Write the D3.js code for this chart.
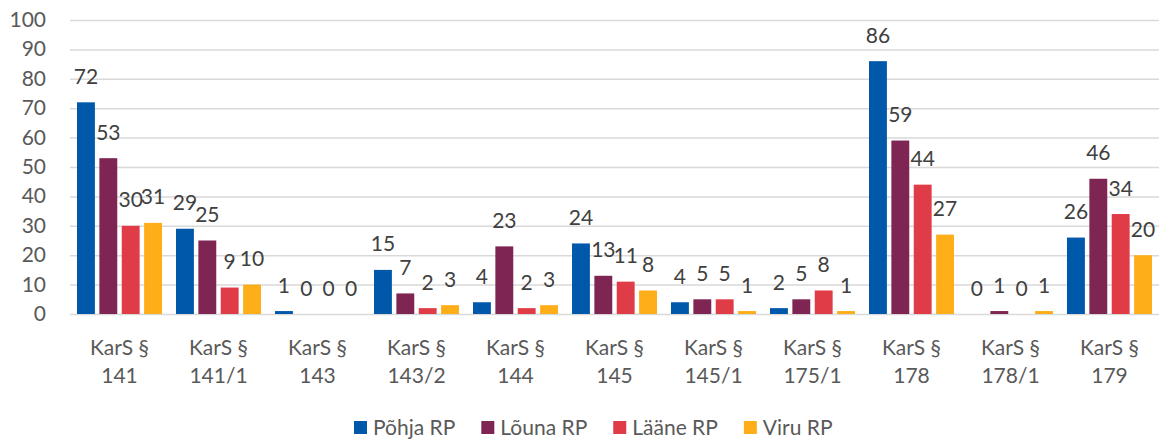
<!DOCTYPE html>
<html>
<head>
<meta charset="utf-8">
<script src="https://cdn.jsdelivr.net/npm/d3@7"></script>
<style>
  body { margin: 0; background: #fff; }
  svg { display: block; font-family: Lato, "Open Sans", sans-serif; }
</style>
</head>
<body>
<div id="chart"></div>
<script>
// categories and series
const categories = ["KarS § 141", "KarS § 141/1", "KarS § 143", "KarS § 143/2", "KarS § 144",
  "KarS § 145", "KarS § 145/1", "KarS § 175/1", "KarS § 178", "KarS § 178/1", "KarS § 179"];
const seriesNames = ["Põhja RP", "Lõuna RP", "Lääne RP", "Viru RP"];
const pohja = [72, 29, 1, 15, 4, 24, 4, 2, 86, 0, 26];
const louna = [53, 25, 0, 7, 23, 13, 5, 5, 59, 1, 46];
const laane = [30, 9, 0, 2, 2, 11, 5, 8, 44, 0, 34];
const viru = [31, 10, 0, 3, 3, 8, 1, 1, 27, 1, 20];
const yTicks = [0, 10, 20, 30, 40, 50, 60, 70, 80, 90, 100];

const seriesValues = [pohja, louna, laane, viru];
const colors = ["#0058AA", "#7E2553", "#E03C48", "#FDAE18"];

const width = 1159, height = 439;
const margin = { top: 20, right: 0, bottom: 125, left: 70 };
const textColor = "#595959";
const fontSize = 21;

const svg = d3.select("#chart").append("svg")
  .attr("width", width)
  .attr("height", height);

const x0 = d3.scaleBand()
  .domain(categories)
  .range([margin.left, width - margin.right]);

const x1 = d3.scaleBand()
  .domain(seriesNames)
  .range([7, x0.bandwidth() - 7])
  .paddingInner(0.2);

const y = d3.scaleLinear()
  .domain([0, 100])
  .range([height - margin.bottom, margin.top]);

// gridlines
svg.append("g")
  .selectAll("line")
  .data(yTicks)
  .join("line")
  .attr("x1", margin.left)
  .attr("x2", width - margin.right)
  .attr("y1", d => y(d) + 0.5)
  .attr("y2", d => y(d) + 0.5)
  .attr("stroke", "#d9d9d9")
  .attr("stroke-width", 1.5);

// y axis labels
svg.append("g")
  .selectAll("text")
  .data(yTicks)
  .join("text")
  .attr("x", 46)
  .attr("y", d => y(d) + 7)
  .attr("text-anchor", "end")
  .attr("font-size", fontSize)
  .attr("fill", textColor)
  .text(d => d);

// bars
const rows = categories.map((c, i) => ({
  cat: c,
  vals: seriesNames.map((s, j) => ({ key: s, idx: j, value: seriesValues[j][i] }))
}));

const group = svg.append("g")
  .selectAll("g")
  .data(rows)
  .join("g")
  .attr("transform", d => `translate(${x0(d.cat)},0)`);

group.selectAll("rect")
  .data(d => d.vals)
  .join("rect")
  .attr("x", d => x1(d.key))
  .attr("width", x1.bandwidth())
  .attr("y", d => y(d.value))
  .attr("height", d => y(0) - y(d.value))
  .attr("fill", d => colors[d.idx]);

// data labels
group.selectAll("text")
  .data(d => d.vals)
  .join("text")
  .attr("x", d => x1(d.key) + x1.bandwidth() / 2)
  .attr("y", d => y(d.value) - 18.5)
  .attr("text-anchor", "middle")
  .attr("font-size", fontSize)
  .attr("fill", "#404040")
  .text(d => d.value);

// category labels, two lines
const catLabel = svg.append("g")
  .selectAll("text")
  .data(categories)
  .join("text")
  .attr("text-anchor", "middle")
  .attr("font-size", fontSize)
  .attr("fill", textColor);

catLabel.append("tspan")
  .attr("x", d => x0(d) + x0.bandwidth() / 2)
  .attr("y", 355)
  .text(d => d.split(" ").slice(0, 2).join(" "));

catLabel.append("tspan")
  .attr("x", d => x0(d) + x0.bandwidth() / 2)
  .attr("y", 383)
  .text(d => d.split(" ")[2]);

// legend
const legend = svg.append("g");
let lx = 354;
seriesNames.forEach((s, i) => {
  legend.append("rect")
    .attr("x", lx)
    .attr("y", 421)
    .attr("width", 13)
    .attr("height", 13)
    .attr("fill", colors[i]);
  const t = legend.append("text")
    .attr("x", lx + 19)
    .attr("y", 435)
    .attr("font-size", fontSize)
    .attr("fill", textColor)
    .text(s);
  lx += 19 + t.node().getComputedTextLength() + 26;
});
</script>
</body>
</html>
